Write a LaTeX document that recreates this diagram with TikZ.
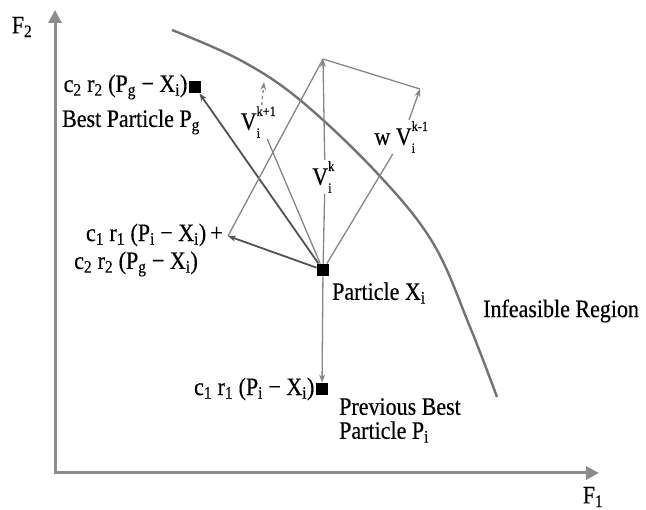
\documentclass[tikz,border=0pt]{standalone}
\usepackage{fontspec}
\setmainfont{Liberation Serif}
\newfontfamily\lblfont[FakeStretch=0.88,FakeBold=0.4]{Liberation Serif}
\usetikzlibrary{arrows.meta}
\newcommand{\sbs}[1]{\textsubscript{#1}}
\newcommand{\supsub}[2]{\rlap{\raisebox{0.55em}{\fontsize{14}{14}\selectfont #1}}\raisebox{-0.32em}{\fontsize{14}{14}\selectfont #2}\hphantom{\fontsize{14}{14}\selectfont #1}}
\begin{document}
\begin{tikzpicture}[x=1pt,y=-1pt,
  lbl/.style={font=\lblfont\fontsize{25}{26}\selectfont, inner sep=1pt},
  sq/.style={fill=black, minimum size=12.5pt, inner sep=0pt},
  axis/.style={draw=black!45, line width=3pt, -{Triangle[width=13pt,length=13pt]}},
  darkl/.style={draw=black!68, line width=1.8pt, -{Stealth[length=8pt,width=6pt]}},
  lightl/.style={draw=black!48, line width=1.3pt},
  tipd/.style={-{Stealth[length=8pt,width=6pt]}},
  curve/.style={draw=black!55, line width=2.4pt}]
\useasboundingbox (0,0) rectangle (646,510);
% axes
\coordinate (org) at (55,473);
\coordinate (ytop) at (55,10);
\coordinate (xend) at (599,473);
\draw[axis] ([yshift=-1.5pt]org) -- (ytop);
\draw[axis] ([xshift=-1.5pt]org) -- (xend);
\node[lbl] (f2) at (22,27) {F\sbs{2}};
\node[lbl] (f1) at (593,497) {F\sbs{1}};
% boundary curve
\draw[curve] plot[smooth, tension=0.6] coordinates {(172,30) (240,60) (300,100) (377,173) (433,243) (470,327) (497,397)};
% points
\node[sq] (xi) at (323,270) {};
\node[sq] (pg) at (195,87) {};
\node[sq] (pi) at (322,389) {};
\coordinate (sum) at (228,236);
\coordinate (vk) at (323,59);
\coordinate (wv) at (420,89);
\coordinate (vk1) at (264,82);
% vector labels
\node[lbl] (lvk1) at (260,122) {V\supsub{k+1}{i}};
\node[lbl] (lvk) at (325,177) {V\supsub{k}{i}};
\node[lbl] (lwv) at (403,137) {w V\supsub{k-1}{i}};
% vectors
\draw[darkl] (xi) -- (pg);
\draw[darkl] (xi) -- (sum);
\draw[lightl] (sum) -- (vk);
\draw[lightl, tipd] (xi) -- (lvk) -- (vk);
\draw[lightl] (vk) -- (wv);
\draw[lightl, tipd] (xi) -- (lwv) -- (wv);
\draw[lightl] (xi) -- (lvk1);
\draw[lightl, dashed, tipd] (lvk1) -- (vk1);
\draw[lightl, tipd] (xi) -- (pi);
% text labels
\node[lbl, anchor=east] (tpg) at (pg.west) {c\sbs{2} r\sbs{2} (P\sbs{g} − X\sbs{i})};
\node[lbl] (tbest) at (131,122) {Best Particle P\sbs{g}};
\node[lbl, anchor=east] (tsum1) at (224,235) {c\sbs{1} r\sbs{1} (P\sbs{i} − X\sbs{i})\,+};
\node[lbl, anchor=west] (tsum2) at (73,264) {c\sbs{2} r\sbs{2} (P\sbs{g} − X\sbs{i})};
\node[lbl, anchor=west] (tpart) at (331,293) {Particle X\sbs{i}};
\node[lbl, anchor=west] (tinf) at (482,311) {Infeasible Region};
\node[lbl, anchor=east] (tpi) at (pi.west) {c\sbs{1} r\sbs{1} (P\sbs{i} − X\sbs{i})};
\node[lbl, anchor=north west, align=left, font=\lblfont\fontsize{25}{24}\selectfont] (tprev) at (338,397) {Previous Best\\Particle P\sbs{i}};
\end{tikzpicture}
\end{document}
